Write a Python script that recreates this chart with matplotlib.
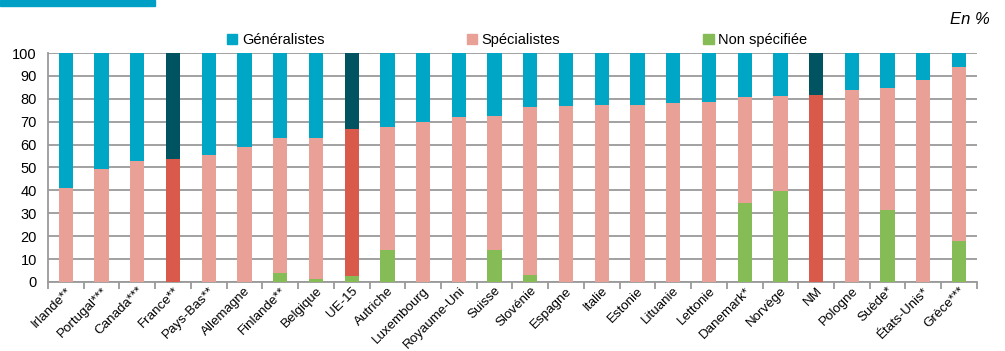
import matplotlib.pyplot as plt
import matplotlib.patches as mpatches
import numpy as np

plt.rcParams['font.family'] = ['Liberation Sans', 'DejaVu Sans']

pays = ['Irlande**', 'Portugal***', 'Canada***', 'France**', 'Pays-Bas**', 'Allemagne',
        'Finlande**', 'Belgique', 'UE-15', 'Autriche', 'Luxembourg', 'Royaume-Uni',
        'Suisse', 'Slovénie', 'Espagne', 'Italie', 'Estonie', 'Lituanie', 'Lettonie',
        'Danemark*', 'Norvège', 'NM', 'Pologne', 'Suède*', 'États-Unis*', 'Grèce***']

# part non specifiee (bas de la barre)
non_specifiee = [0, 0, 0, 0, 0, 0, 4.1, 1.3, 2.6, 14.0, 0, 0, 14.0, 2.9, 0, 0, 0, 0, 0,
                 34.3, 39.7, 0, 0, 31.4, 0, 18.1]
# sommet de la partie specialistes (cumul)
cumul_spec = [41.2, 49.5, 52.8, 53.9, 55.5, 59.0, 62.8, 62.8, 66.9, 67.9, 70.0, 72.0,
              72.6, 76.6, 77.0, 77.2, 77.4, 78.0, 78.4, 80.7, 81.3, 81.8, 83.8, 84.8,
              88.3, 93.9]
specialistes = [c - n for c, n in zip(cumul_spec, non_specifiee)]
generalistes = [100 - c for c in cumul_spec]

agregats = ['France**', 'UE-15', 'NM']

c_gen, c_gen_f = '#00A6C6', '#005461'
c_spe, c_spe_f = '#E9A097', '#D9594A'
c_ns = '#86BC56'

fig = plt.figure(figsize=(10.05, 3.51), dpi=100)
ax = fig.add_axes([0.0478, 0.1966, 0.9242, 0.6524])

x = np.arange(len(pays)) + 0.5
col_gen = [c_gen_f if p in agregats else c_gen for p in pays]
col_spe = [c_spe_f if p in agregats else c_spe for p in pays]

ax.bar(x, non_specifiee, width=0.4, color=c_ns, zorder=3)
ax.bar(x, specialistes, width=0.4, bottom=non_specifiee, color=col_spe, zorder=3)
ax.bar(x, generalistes, width=0.4, bottom=cumul_spec, color=col_gen, zorder=3)

ax.set_xlim(0, len(pays))
ax.set_ylim(0, 100)
ax.set_yticks(range(0, 101, 10))
ax.yaxis.grid(True, color='#9a9a9a', linewidth=1.3, zorder=0)
ax.tick_params(axis='y', length=0, labelsize=10.5, pad=8)

ax.set_xticks(range(len(pays) + 1))
ax.set_xticklabels([])
ax.set_xticks(x, minor=True)
ax.set_xticklabels(pays, minor=True, rotation=45, ha='right', va='top',
                   rotation_mode='anchor', fontsize=9.6)
ax.tick_params(axis='x', which='major', length=5, color='#9a9a9a', width=1.3)
ax.tick_params(axis='x', which='minor', length=0, pad=2)

for s in ['top', 'right']:
    ax.spines[s].set_visible(False)
for s in ['left', 'bottom']:
    ax.spines[s].set_color('#9a9a9a')
    ax.spines[s].set_linewidth(1.3)

handles = [mpatches.Patch(color=c_gen, label='Généralistes'),
           mpatches.Patch(color=c_spe, label='Spécialistes'),
           mpatches.Patch(color=c_ns, label='Non spécifiée')]
ax.legend(handles=handles, ncol=3, frameon=False, loc='center',
          bbox_to_anchor=(0.505, 1.057), fontsize=10.5, handlelength=0.7,
          handleheight=0.7, handletextpad=0.3, columnspacing=9.8)

fig.text(0.985, 0.945, 'En %', ha='right', va='center', fontsize=12, style='italic')
fig.patches.append(mpatches.Rectangle((0, 1 - 6 / 351), 155 / 1005, 6 / 351,
                                      transform=fig.transFigure, color='#00A0C6'))

fig.savefig('out.png', dpi=100)
